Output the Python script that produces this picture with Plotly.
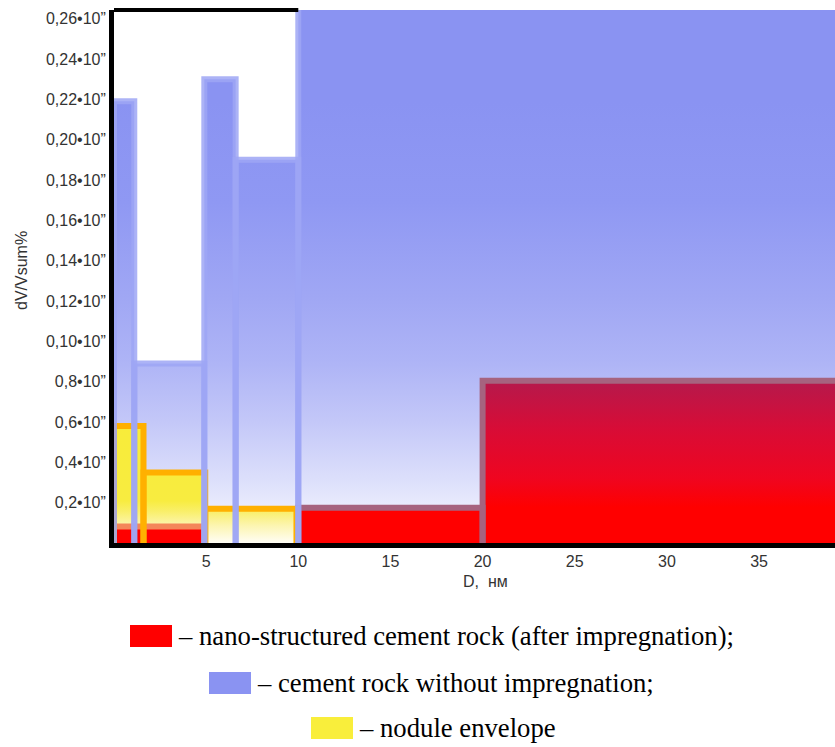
import plotly.graph_objects as go

# ---------------- data ----------------
x_tick_vals = [5, 10, 15, 20, 25, 30, 35]
x_tick_labels = ["5", "10", "15", "20", "25", "30", "35"]
y_tick_vals = [0.02, 0.04, 0.06, 0.08, 0.10, 0.12, 0.14, 0.16, 0.18, 0.20, 0.22, 0.24, 0.26]
y_tick_labels = ["0,2•10”", "0,4•10”", "0,6•10”", "0,8•10”", "0,10•10”", "0,12•10”",
                 "0,14•10”", "0,16•10”", "0,18•10”", "0,20•10”", "0,22•10”", "0,24•10”",
                 "0,26•10”"]

# cement rock without impregnation (blue)
blue_left = [0.0, 1.1, 4.9, 6.6, 10.0]
blue_right = [1.1, 4.9, 6.6, 10.0, 40.0]
blue_dv = [0.219, 0.089, 0.230, 0.190, 0.300]

# nodule envelope (yellow)
yellow_left = [0.0, 1.6, 4.95]
yellow_right = [1.6, 4.95, 9.9]
yellow_dv = [0.058, 0.035, 0.017]

# nano-structured cement rock after impregnation (red)
red_left = [0.0, 10.0, 20.0]
red_right = [4.9, 20.0, 40.0]
red_dv = [0.0082, 0.0175, 0.0805]

legend_labels = ["– nano-structured cement rock (after impregnation);",
                 "– cement rock without impregnation;",
                 "– nodule envelope"]

# ---------------- styles / layout ----------------
PAGE_W, PAGE_H = 835, 747
W, H = PAGE_W, PAGE_H
ML, MT, MR = 114, 10, 0
MB = H - 543
PW, PH = W - ML - MR, H - MT - MB
X_RANGE = [0, 39.12]
Y_RANGE = [0, 0.2643]

def px2x(px):
    return (px - ML) / PW

def py2y(py):
    return (H - MB - py) / PH

def fill_path(lefts, rights, heights):
    xs, ys = [], []
    for l, r, h in zip(lefts, rights, heights):
        xs += [l, l, r, r, l, None]
        ys += [0, h, h, 0, 0, None]
    return xs, ys

def outline_path(l, r, h):
    return [l, l, r, r], [0, h, h, 0]

fig = go.Figure()

# blue fill
bx, by = fill_path(blue_left, blue_right, blue_dv)
fig.add_trace(go.Scatter(
    x=bx, y=by, mode="lines", fill="toself", line=dict(width=0),
    fillgradient=dict(type="vertical", start=0, stop=Y_RANGE[1],
                      colorscale=[[0, "#fbfbff"], [0.03, "#f3f4fe"], [0.12, "#dcdffb"],
                                  [0.23, "#c3c7f8"], [0.34, "#aeb4f6"], [0.46, "#a0a7f4"],
                                  [0.64, "#8f98f3"], [0.83, "#8a93f2"], [1, "#8a93f2"]]),
    hoverinfo="skip", showlegend=False))

# yellow fill
yx, yy = fill_path(yellow_left, yellow_right, yellow_dv)
fig.add_trace(go.Scatter(
    x=yx, y=yy, mode="lines", fill="toself", line=dict(width=0),
    fillgradient=dict(type="vertical", start=0, stop=max(yellow_dv),
                      colorscale=[[0, "#fffef6"], [0.15, "#fcf5b0"], [0.27, "#f9ef6a"],
                                  [0.36, "#f8ec40"], [1, "#f8ec3a"]]),
    hoverinfo="skip", showlegend=False))

# red fill
rx, ry = fill_path(red_left, red_right, red_dv)
fig.add_trace(go.Scatter(
    x=rx, y=ry, mode="lines", fill="toself", line=dict(width=0),
    fillgradient=dict(type="vertical", start=0, stop=max(red_dv),
                      colorscale=[[0, "#ff0000"], [0.22, "#ff0000"], [0.4, "#ef0520"],
                                  [0.7, "#d80c36"], [1, "#b5194c"]]),
    hoverinfo="skip", showlegend=False))

# red borders
red_border_colors = ["#f4865a", "#a6637f", "#a6637f"]
for l, r, h, c in zip(red_left, red_right, red_dv, red_border_colors):
    ox, oy = outline_path(l, r, h)
    fig.add_trace(go.Scatter(x=ox, y=oy, mode="lines", line=dict(color=c, width=6),
                             hoverinfo="skip", showlegend=False))

# yellow borders
for l, r, h in zip(yellow_left, yellow_right, yellow_dv):
    ox, oy = outline_path(l, r, h)
    fig.add_trace(go.Scatter(x=ox, y=oy, mode="lines", line=dict(color="#ffb000", width=6),
                             hoverinfo="skip", showlegend=False))

# blue borders
for l, r, h in zip(blue_left, blue_right, blue_dv):
    ox, oy = outline_path(l, r, h)
    fig.add_trace(go.Scatter(x=ox, y=oy, mode="lines",
                             line=dict(color="rgba(158,166,245,0.85)", width=6),
                             hoverinfo="skip", showlegend=False))

axis_font = dict(family="Liberation Sans, Arial, sans-serif", color="#333333")

shapes = [
    # top frame segment (up to the start of the tall blue bar)
    dict(type="line", xref="x", yref="paper", x0=X_RANGE[0], x1=blue_left[4], y0=1, y1=1,
         line=dict(color="black", width=4)),
]
annotations = [
    dict(text="D,  нм", xref="paper", yref="paper", x=px2x(485), y=py2y(581),
         xanchor="center", yanchor="middle", showarrow=False,
         font=dict(size=16, **axis_font)),
    dict(text="dV/Vsum%", xref="paper", yref="paper", x=px2x(21), y=py2y(271),
         xanchor="center", yanchor="middle", showarrow=False, textangle=-90,
         font=dict(size=16, **axis_font)),
]

legend_colors = ["#ff0000", "#8a93f2", "#f9ee3b"]
legend_box_left = [130, 209, 311]
legend_row_center = [636, 683, 728]
for lbl, col, bl, yc in zip(legend_labels, legend_colors, legend_box_left, legend_row_center):
    shapes.append(dict(type="rect", xref="paper", yref="paper",
                       x0=px2x(bl), x1=px2x(bl + 42), y0=py2y(yc - 11), y1=py2y(yc + 11),
                       fillcolor=col, line=dict(width=0)))
    annotations.append(dict(text=lbl, xref="paper", yref="paper", x=px2x(bl + 46),
                            y=py2y(yc), xanchor="left", yanchor="middle", showarrow=False,
                            font=dict(family="Liberation Serif, Times New Roman, serif",
                                      size=26.7, color="black")))

fig.update_layout(
    width=W, height=H,
    margin=dict(l=ML, r=MR, t=MT, b=MB),
    paper_bgcolor="white", plot_bgcolor="white",
    showlegend=False,
    shapes=shapes, annotations=annotations,
    xaxis=dict(range=X_RANGE, showline=True, linecolor="black", linewidth=5,
               showgrid=False, zeroline=False, ticks="",
               tickvals=x_tick_vals, ticktext=x_tick_labels,
               tickfont=dict(size=16, **axis_font)),
    yaxis=dict(range=Y_RANGE, showline=True, linecolor="black", linewidth=5,
               showgrid=False, zeroline=False, ticks="",
               tickvals=y_tick_vals, ticktext=y_tick_labels,
               tickfont=dict(size=16, **axis_font)),
)

fig.write_html("out.html",
               config={"displayModeBar": False, "staticPlot": True},
               post_script="document.body.style.margin='0';"
                           "document.body.style.padding='0';"
                           "document.body.style.overflow='hidden';"
                           "document.documentElement.style.overflow='hidden';")
